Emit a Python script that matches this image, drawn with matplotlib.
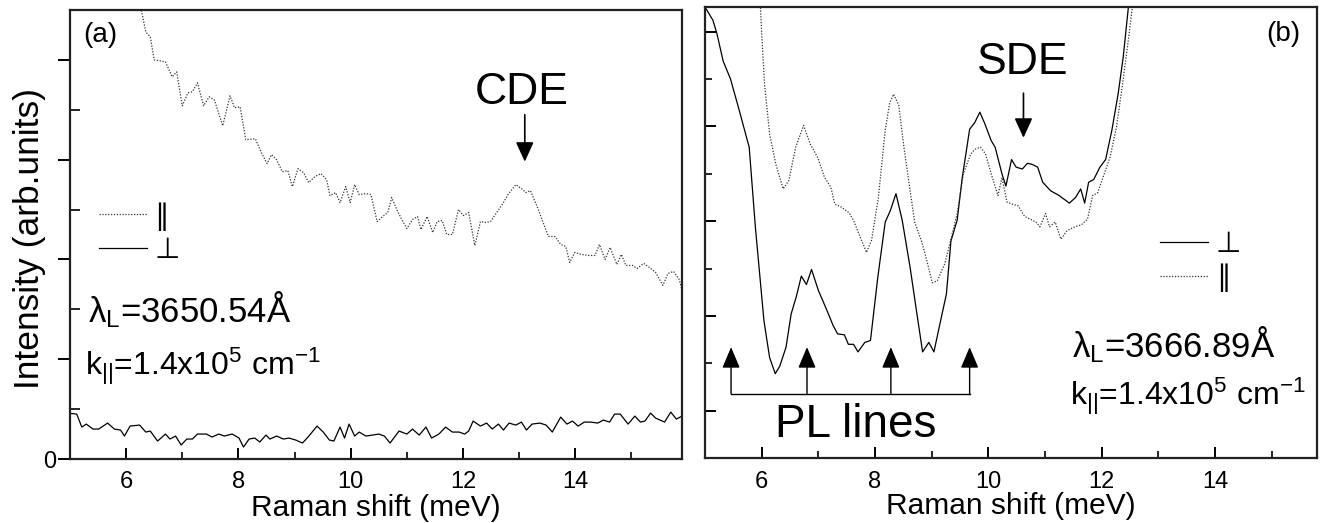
import matplotlib
matplotlib.use('Agg')
import matplotlib.pyplot as plt
from matplotlib.ticker import FixedLocator, FixedFormatter, NullFormatter
from matplotlib.lines import Line2D

plt.rcParams['font.family'] = ['Liberation Sans', 'DejaVu Sans']
plt.rcParams['mathtext.fontset'] = 'custom'
plt.rcParams['mathtext.rm'] = 'Liberation Sans'
plt.rcParams['mathtext.it'] = 'Liberation Sans:italic'
plt.rcParams['mathtext.bf'] = 'Liberation Sans:bold'

# ---------------- data: panel (a) ----------------
a_par_x = [6.2, 6.27, 6.35, 6.43, 6.5, 6.7, 6.82, 6.9, 7.0, 7.1, 7.18, 7.27, 7.38, 7.48, 7.57,
           7.72, 7.85, 7.93, 8.03, 8.13, 8.3, 8.41, 8.51, 8.59, 8.68, 8.78, 8.88, 8.96, 9.06,
           9.16, 9.25, 9.36, 9.47, 9.57, 9.63, 9.73, 9.81, 9.91, 9.99, 10.07, 10.15, 10.27,
           10.36, 10.47, 10.57, 10.66, 10.73, 10.82, 10.9, 11.0, 11.1, 11.19, 11.25, 11.36,
           11.46, 11.54, 11.63, 11.71, 11.81, 11.92, 12.01, 12.1, 12.21, 12.31, 12.41, 12.49,
           12.6, 12.71, 12.8, 12.94, 13.04, 13.12, 13.2, 13.32, 13.42, 13.52, 13.64, 13.74,
           13.83, 13.9, 13.99, 14.11, 14.23, 14.35, 14.43, 14.53, 14.62, 14.74, 14.82, 14.9,
           15.02, 15.1, 15.22, 15.32, 15.43, 15.56, 15.65, 15.75, 15.85, 15.93]
a_par_y = [4.8, 4.5, 4.28, 4.23, 4.0, 3.98, 3.83, 3.88, 3.54, 3.67, 3.68, 3.77, 3.54, 3.63, 3.6,
           3.34, 3.64, 3.52, 3.53, 3.2, 3.21, 3.07, 2.96, 3.05, 3.0, 2.88, 2.89, 2.73, 2.91,
           2.87, 2.77, 2.83, 2.86, 2.8, 2.64, 2.67, 2.57, 2.73, 2.57, 2.75, 2.65, 2.66,
           2.65, 2.38, 2.43, 2.47, 2.62, 2.5, 2.41, 2.31, 2.4, 2.43, 2.3, 2.43,
           2.27, 2.38, 2.39, 2.25, 2.25, 2.5, 2.44, 2.47, 2.14, 2.38, 2.37, 2.38,
           2.47, 2.56, 2.65, 2.75, 2.71, 2.67, 2.69, 2.53, 2.38, 2.23, 2.23, 2.15,
           2.13, 1.97, 2.07, 2.05, 2.04, 2.04, 2.15, 2.0, 2.12, 1.95, 2.05, 1.94,
           1.94, 1.91, 1.96, 1.92, 1.87, 1.74, 1.86, 1.88, 1.8, 1.63]

a_perp_x = [4.96, 5.12, 5.21, 5.29, 5.41, 5.51, 5.67, 5.79, 5.9, 5.97, 6.07, 6.24, 6.35, 6.43,
            6.56, 6.7, 6.78, 6.88, 6.98, 7.08, 7.18, 7.27, 7.43, 7.53, 7.65, 7.75, 7.89, 8.01,
            8.09, 8.19, 8.29, 8.38, 8.49, 8.56, 8.68, 8.8, 8.9, 9.02, 9.14, 9.24, 9.4, 9.51,
            9.62, 9.7, 9.81, 9.89, 9.97, 10.07, 10.15, 10.27, 10.39, 10.5, 10.6, 10.7, 10.86,
            11.0, 11.1, 11.22, 11.34, 11.44, 11.57, 11.69, 11.81, 11.93, 12.03, 12.1, 12.18,
            12.31, 12.42, 12.52, 12.63, 12.72, 12.82, 12.94, 13.04, 13.13, 13.23, 13.37, 13.48,
            13.59, 13.74, 13.85, 13.95, 14.05, 14.16, 14.27, 14.4, 14.5, 14.61, 14.7, 14.8,
            14.94, 15.06, 15.16, 15.24, 15.34, 15.43, 15.59, 15.7, 15.8, 15.9]
a_perp_y = [0.46, 0.45, 0.32, 0.35, 0.3, 0.3, 0.36, 0.3, 0.29, 0.23, 0.33, 0.34, 0.27, 0.28,
            0.18, 0.25, 0.2, 0.23, 0.14, 0.2, 0.2, 0.25, 0.25, 0.22, 0.25, 0.23, 0.25, 0.21,
            0.12, 0.2, 0.21, 0.17, 0.24, 0.2, 0.23, 0.2, 0.21, 0.19, 0.16, 0.22, 0.33, 0.27,
            0.19, 0.18, 0.32, 0.21, 0.35, 0.23, 0.27, 0.23, 0.24, 0.25, 0.23, 0.16, 0.28,
            0.25, 0.3, 0.24, 0.32, 0.21, 0.25, 0.32, 0.27, 0.27, 0.25, 0.28, 0.38,
            0.33, 0.36, 0.3, 0.35, 0.29, 0.36, 0.34, 0.37, 0.29, 0.35, 0.36, 0.34,
            0.27, 0.42, 0.35, 0.38, 0.33, 0.37, 0.37, 0.36, 0.39, 0.37, 0.45, 0.45,
            0.35, 0.43, 0.37, 0.38, 0.46, 0.41, 0.37, 0.47, 0.4, 0.43]

# ---------------- data: panel (b) ----------------
b_perp_x = [5.01, 5.14, 5.21, 5.32, 5.45, 5.59, 5.78, 5.89, 6.04, 6.14, 6.24, 6.32, 6.43, 6.52,
            6.61, 6.7, 6.79, 6.88, 7.0, 7.15, 7.26, 7.34, 7.46, 7.53, 7.62, 7.7, 7.82, 7.92,
            8.05, 8.18, 8.27, 8.37, 8.48, 8.62, 8.73, 8.84, 8.95, 9.04, 9.14, 9.26, 9.34, 9.45,
            9.54, 9.67, 9.76, 9.85, 9.93, 10.05, 10.12, 10.24, 10.31, 10.41, 10.49, 10.6, 10.69,
            10.77, 10.87, 10.96, 11.1, 11.25, 11.43, 11.54, 11.63, 11.7, 11.77, 11.86, 11.97,
            12.07, 12.18, 12.29, 12.38, 12.47, 12.52]
b_perp_y = [4.75, 4.62, 4.48, 4.19, 4.0, 3.7, 3.28, 2.43, 1.45, 1.06, 0.89, 0.97, 1.17, 1.52,
            1.7, 1.92, 1.83, 1.99, 1.77, 1.56, 1.4, 1.31, 1.3, 1.2, 1.2, 1.12, 1.22, 1.24,
            1.91, 2.49, 2.61, 2.79, 2.51, 2.01, 1.56, 1.12, 1.22, 1.12, 1.4, 1.73, 2.29, 2.51,
            2.96, 3.47, 3.54, 3.65, 3.54, 3.35, 3.28, 3.0, 2.87, 3.15, 3.07, 3.05, 3.11,
            3.1, 3.07, 2.91, 2.82, 2.77, 2.69, 2.75, 2.84, 2.69, 2.91, 2.94, 3.07,
            3.15, 3.46, 3.84, 4.23, 4.75, 5.2]

b_par_x = [5.96, 6.0, 6.05, 6.14, 6.25, 6.38, 6.48, 6.6, 6.74, 6.86, 6.99, 7.11, 7.22, 7.29,
           7.4, 7.54, 7.62, 7.72, 7.85, 7.94, 8.06, 8.18, 8.26, 8.33, 8.42, 8.51, 8.62, 8.7,
           8.82, 8.9, 9.01, 9.1, 9.23, 9.34, 9.45, 9.56, 9.69, 9.77, 9.86, 9.95, 10.06, 10.17,
           10.24, 10.33, 10.42, 10.53, 10.64, 10.74, 10.84, 10.91, 11.01, 11.08, 11.18, 11.28,
           11.39, 11.53, 11.64, 11.75, 11.84, 11.93, 12.04, 12.15, 12.26, 12.37, 12.47, 12.54,
           12.58]
b_par_y = [5.0, 4.48, 3.95, 3.42, 3.1, 2.84, 2.93, 3.28, 3.51, 3.31, 3.17, 2.96, 2.86, 2.68,
           2.65, 2.59, 2.51, 2.36, 2.17, 2.3, 2.75, 3.46, 3.75, 3.84, 3.72, 3.28, 2.82, 2.49,
           2.29, 2.12, 1.85, 1.87, 2.05, 2.31, 2.58, 3.0, 3.21, 3.26, 3.28, 3.21, 2.98, 2.77,
           2.96, 2.7, 2.68, 2.66, 2.55, 2.52, 2.49, 2.44, 2.58, 2.44, 2.49, 2.31,
           2.4, 2.44, 2.46, 2.52, 2.77, 2.8, 2.99, 3.18, 3.49, 3.95, 4.41, 4.75,
           5.0]

pl_lines_x = [5.46, 6.8, 8.28, 9.67]
xticks_major = [6, 8, 10, 12, 14]
xticks_minor = [7, 9, 11, 13, 15]

fig = plt.figure(figsize=(13.25, 5.23), dpi=100)
axa = fig.add_axes([70 / 1325, 1 - 459 / 523, 612 / 1325, 449 / 523])
axb = fig.add_axes([705 / 1325, 1 - 458 / 523, 612 / 1325, 451 / 523])

dot = (0, (1, 1.3))
for ax in (axa, axb):
    for s in ax.spines.values():
        s.set_linewidth(1.6)
        s.set_color('#222222')
    ax.xaxis.set_major_locator(FixedLocator(xticks_major))
    ax.xaxis.set_minor_locator(FixedLocator(xticks_minor))
    ax.tick_params(axis='x', which='major', direction='in', length=8, width=1.4,
                   labelsize=17, pad=9, top=False)
    ax.tick_params(axis='x', which='minor', direction='in', length=5, width=1.2, top=False)
    ax.set_xlabel('Raman shift (meV)', fontsize=21.5, labelpad=0)

# ---- panel (a)
axa.plot(a_par_x, a_par_y, color='#333333', lw=0.9, ls=dot)
axa.plot(a_perp_x, a_perp_y, color='black', lw=0.9)
axa.set_xlim(5, 15.9)
axa.set_ylim(0, 4.5)
axa.yaxis.set_major_locator(FixedLocator([0, 1, 2, 3, 4]))
axa.yaxis.set_major_formatter(FixedFormatter(['0', '', '', '', '']))
axa.yaxis.set_minor_locator(FixedLocator([0.5, 1.5, 2.5, 3.5, 4.5]))
axa.tick_params(axis='y', which='major', direction='out', length=9, width=1.4,
                labelsize=17, pad=1, right=False)
axa.tick_params(axis='y', which='minor', direction='in', length=7, width=1.2, right=False)
axa.set_ylabel('Intensity (arb.units)', fontsize=25.5)
axa.yaxis.set_label_coords(-0.040, 0.49)

axa.text(5.23, 4.25, '(a)', fontsize=20, ha='left', va='center')
axa.text(13.05, 3.67, 'CDE', fontsize=32, ha='center', va='center')
axa.annotate('', xy=(13.1, 2.98), xytext=(13.1, 3.45),
             arrowprops=dict(arrowstyle='-|>,head_length=1.2,head_width=0.55',
                             color='black', lw=1.2, shrinkA=0, shrinkB=0, mutation_scale=10))
axa.text(5.32, 1.37, r'λ$_{\mathrm{L}}$=3650.54Å', fontsize=25, ha='left', va='baseline')
axa.text(5.27, 0.84, r'k$_{||}$=1.4x10$^{5}$ cm$^{-1}$', fontsize=23, ha='left', va='baseline')

leg_a = [Line2D([], [], color='#333333', lw=0.9, ls=dot),
         Line2D([], [], color='black', lw=0.9)]
axa.legend(leg_a, ['∥', '⊥'], loc='upper left', bbox_to_anchor=(0.023, 0.605),
           frameon=False, prop={'family': 'DejaVu Sans', 'size': 21},
           handlelength=1.65, handletextpad=0.25, labelspacing=0.18, borderpad=0)

# ---- panel (b)
axb.plot(b_perp_x, b_perp_y, color='black', lw=0.9)
axb.plot(b_par_x, b_par_y, color='#333333', lw=0.9, ls=dot)
axb.set_xlim(5, 15.8)
axb.set_ylim(0, 4.76)
axb.yaxis.set_major_locator(FixedLocator([0.5, 1.5, 2.5, 3.5, 4.5]))
axb.yaxis.set_minor_locator(FixedLocator([1, 2, 3, 4]))
axb.yaxis.set_major_formatter(NullFormatter())
axb.tick_params(axis='y', which='major', direction='in', length=8, width=1.4, right=False)
axb.tick_params(axis='y', which='minor', direction='in', length=5, width=1.2, right=False)

axb.text(15.5, 4.47, '(b)', fontsize=20, ha='right', va='center')
axb.text(10.61, 4.17, 'SDE', fontsize=32, ha='center', va='center')
axb.annotate('', xy=(10.62, 3.38), xytext=(10.62, 3.85),
             arrowprops=dict(arrowstyle='-|>,head_length=1.2,head_width=0.55',
                             color='black', lw=1.2, shrinkA=0, shrinkB=0, mutation_scale=10))
axb.text(11.48, 1.06, r'λ$_{\mathrm{L}}$=3666.89Å', fontsize=25, ha='left', va='baseline')
axb.text(11.45, 0.56, r'k$_{||}$=1.4x10$^{5}$ cm$^{-1}$', fontsize=23, ha='left', va='baseline')

pl_base = 0.68
pl_tip = 1.17
axb.plot([pl_lines_x[0], pl_lines_x[-1]], [pl_base, pl_base], color='black', lw=1.0)
for xp in pl_lines_x:
    axb.annotate('', xy=(xp, pl_tip), xytext=(xp, pl_base),
                 arrowprops=dict(arrowstyle='-|>,head_length=1.3,head_width=0.55',
                                 color='black', lw=1.0, shrinkA=0, shrinkB=0,
                                 mutation_scale=10))
axb.text(7.66, 0.22, 'PL lines', fontsize=33, ha='center', va='baseline')

leg_b = [Line2D([], [], color='black', lw=0.9),
         Line2D([], [], color='#333333', lw=0.9, ls=dot)]
axb.legend(leg_b, ['⊥', '∥'], loc='upper left', bbox_to_anchor=(0.72, 0.538),
           frameon=False, prop={'family': 'DejaVu Sans', 'size': 21},
           handlelength=1.65, handletextpad=0.25, labelspacing=0.18, borderpad=0)

fig.savefig('out.png', dpi=100)
